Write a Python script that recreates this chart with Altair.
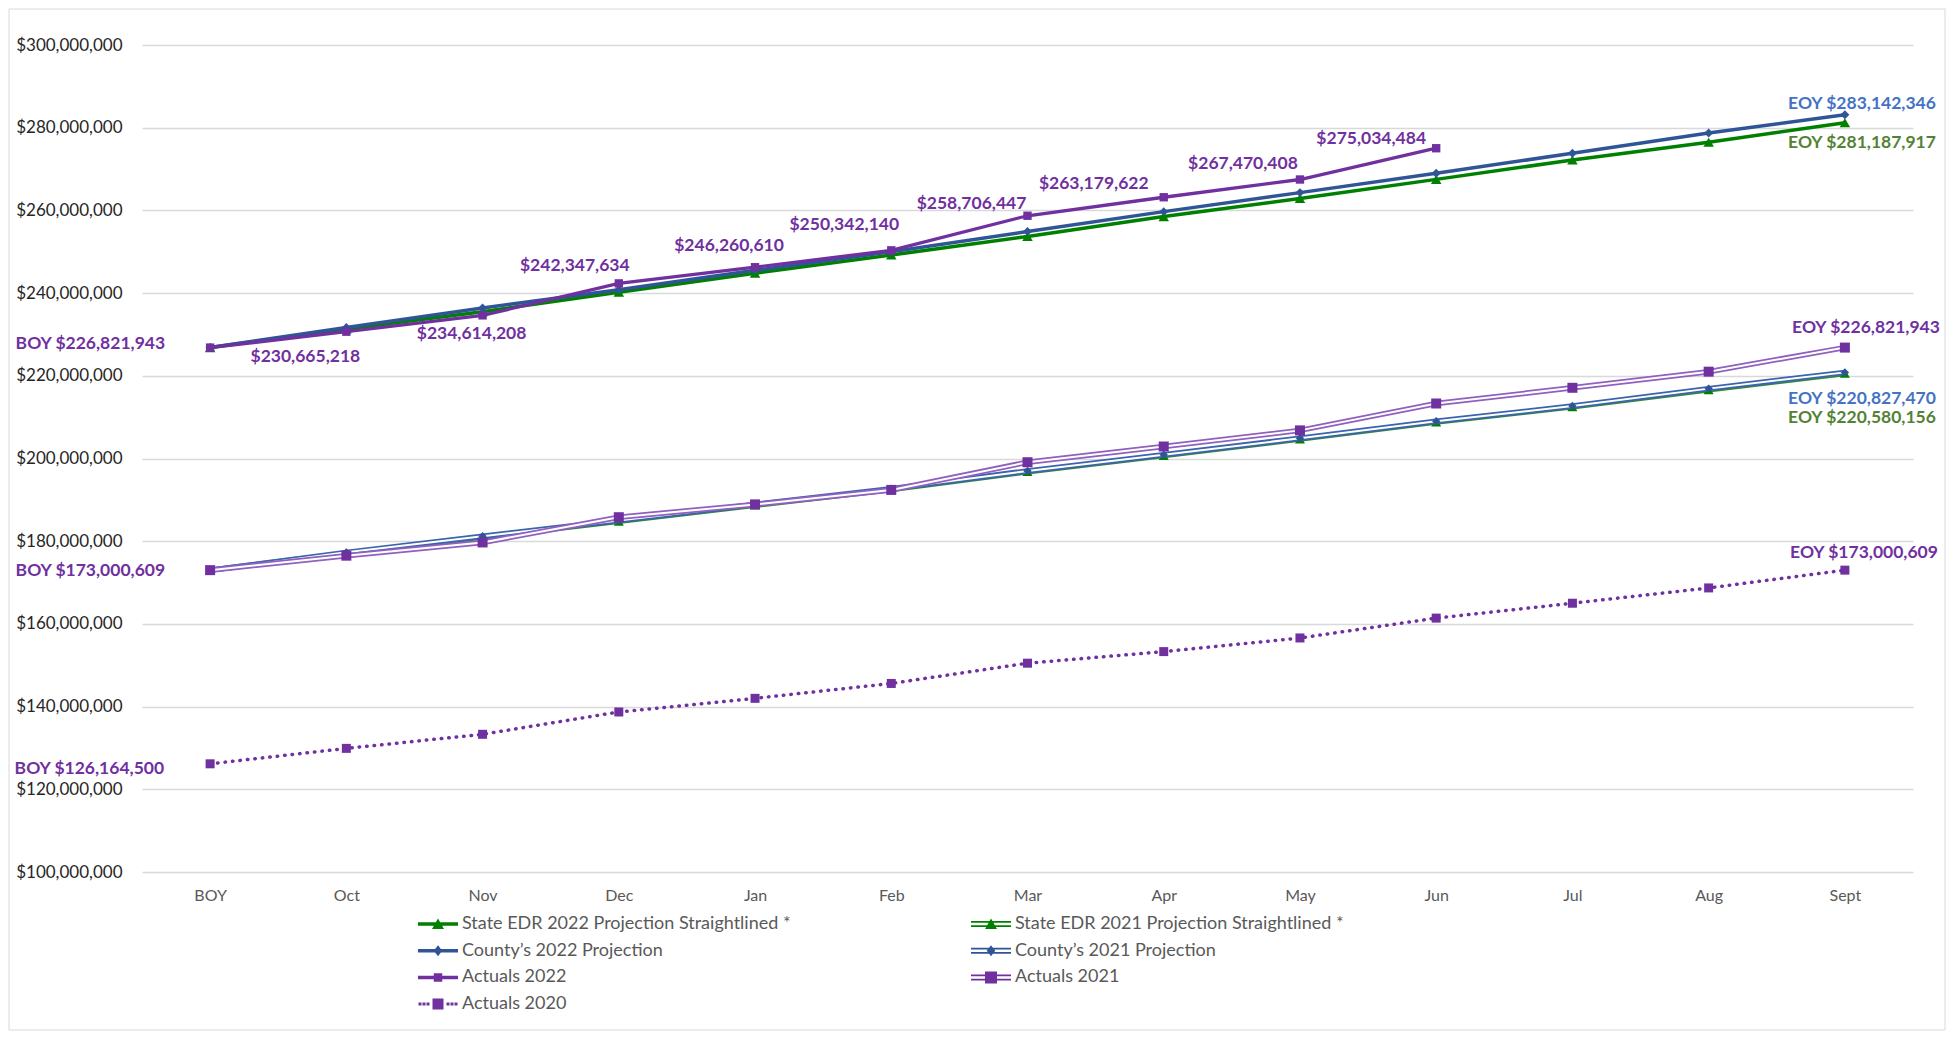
import altair as alt
import pandas as pd

# ---------------- data ----------------
months = ["BOY", "Oct", "Nov", "Dec", "Jan", "Feb", "Mar", "Apr", "May", "Jun", "Jul", "Aug", "Sept"]

series_names = [
    "State EDR 2022 Projection Straightlined *",
    "State EDR 2021 Projection Straightlined *",
    "County’s 2022 Projection",
    "County’s 2021 Projection",
    "Actuals 2022",
    "Actuals 2021",
    "Actuals 2020",
]

state_2022 = [226821943, 231300000, 235500000, 240200000, 244800000, 249200000, 253700000,
              258500000, 262900000, 267500000, 272200000, 276500000, 281187917]
county_2022 = [226821943, 231700000, 236400000, 240800000, 245500000, 250000000, 254900000,
               259700000, 264300000, 269000000, 273800000, 278700000, 283142346]
actuals_2022 = [226821943, 230665218, 234614208, 242347634, 246260610, 250342140, 258706447,
                263179622, 267470408, 275034484, None, None, None]
state_2021 = [173000609, 177100000, 181000000, 184800000, 188700000, 192500000, 196800000,
              200700000, 204700000, 208800000, 212500000, 216600000, 220580156]
county_2021 = [173000609, 177300000, 181200000, 185000000, 188900000, 192700000, 197000000,
               200900000, 204900000, 209000000, 212700000, 216900000, 220827470]
actuals_2021 = [173000609, 176500000, 179700000, 185800000, 188900000, 192400000, 199100000,
                202900000, 206800000, 213300000, 217100000, 221000000, 226821943]
actuals_2020 = [126164500, 129900000, 133300000, 138700000, 142000000, 145600000, 150500000,
                153300000, 156600000, 161400000, 165000000, 168700000, 173000609]

y_ticks = [100000000, 120000000, 140000000, 160000000, 180000000, 200000000,
           220000000, 240000000, 260000000, 280000000, 300000000]

values_by_series = {
    series_names[0]: state_2022,
    series_names[1]: state_2021,
    series_names[2]: county_2022,
    series_names[3]: county_2021,
    series_names[4]: actuals_2022,
    series_names[5]: actuals_2021,
    series_names[6]: actuals_2020,
}

rows = []
for s, vals in values_by_series.items():
    for m, v in zip(months, vals):
        rows.append({"series": s, "month": m, "value": v})
df = pd.DataFrame(rows)

# ---------------- styles ----------------
GREEN = "#008000"
BLUE = "#2F5597"
PURPLE = "#7030A0"
GREEN21 = "#2E8B2E"
BLUE21 = "#3B64AD"
PURPLE21 = "#9060C0"
LBL_BLUE = "#4472C4"
LBL_GREEN = "#548235"
FONT = "Lato"

x_axis = alt.Axis(title=None, domain=False, ticks=False, grid=False, labelAngle=0,
                  labelFont=FONT, labelFontSize=16, labelColor="#595959", labelPadding=15)
y_axis = alt.Axis(title=None, domain=False, ticks=False, grid=True, values=y_ticks,
                  format="$,.0f", labelFont=FONT, labelFontSize=17, labelColor="#262626",
                  labelPadding=20, gridColor="#d9d9d9", gridWidth=1.3)


def xenc():
    return alt.X("month:N", scale=alt.Scale(type="point", domain=months, padding=0.5), axis=x_axis)


def yenc():
    return alt.Y("value:Q", scale=alt.Scale(domain=[100000000, 300000000], nice=False, zero=False),
                 axis=y_axis)


def sub(s):
    return df[df["series"] == s].dropna()


def line(s, color, width, **kw):
    return alt.Chart(sub(s)).mark_line(color=color, strokeWidth=width, **kw).encode(x=xenc(), y=yenc())


def points(s, shape, size, color):
    return alt.Chart(sub(s)).mark_point(shape=shape, size=size, color=color, filled=True,
                                        opacity=1).encode(x=xenc(), y=yenc())


def label(s, month, prefix, color, align, dx, dy):
    d = df[(df["series"] == s) & (df["month"] == month)].copy()
    d["label"] = [prefix + "${:,.0f}".format(v) for v in d["value"]]
    return alt.Chart(d).mark_text(font=FONT, fontSize=17.5, fontWeight="bold", color=color,
                                  align=align, baseline="middle", dx=dx, dy=dy).encode(
        x=xenc(), y=yenc(), text="label:N")


# legend symbol paths (unit = 5px)
def rect(x0, y0, x1, y1):
    return f"M{x0},{y0}H{x1}V{y1}H{x0}Z"


single = rect(-4, -0.35, 4, 0.35)
double = rect(-4, -0.6, 4, -0.25) + rect(-4, 0.25, 4, 0.6)
dots = "".join(rect(c - 0.3, -0.3, c + 0.3, 0.3) for c in [-3.6, -2.8, -2.0, 2.0, 2.8, 3.6])
tri = "M0,-1.1L1.2,1L-1.2,1Z"
dia = "M0,-1.1L0.85,0L0,1.1L-0.85,0Z"
sq = rect(-0.85, -0.85, 0.85, 0.85)
sq_big = rect(-1.2, -1.2, 1.2, 1.2)
sq_mid = rect(-1.1, -1.1, 1.1, 1.1)

legend_shapes = [single + tri, double + tri, single + dia, double + dia,
                 single + sq, double + sq_big, dots + sq_mid]
legend_colors = [GREEN, GREEN, BLUE, BLUE, PURPLE, PURPLE, PURPLE]

legend_df = pd.DataFrame({"series": series_names, "month": ["BOY"] * 7, "value": [None] * 7})

legend_spec = alt.Legend(orient="none", legendX=272, legendY=870, columns=2, direction="horizontal",
                         title=None,
                         symbolSize=100, symbolStrokeWidth=0, symbolOffset=15, labelOffset=15,
                         labelFont=FONT, labelFontSize=18, labelColor="#595959", labelLimit=600,
                         rowPadding=8.7, columnPadding=176, padding=0)

legend_layer = alt.Chart(legend_df).mark_point(filled=True, opacity=1, size=100).encode(
    x=xenc(), y=yenc(),
    color=alt.Color("series:N", scale=alt.Scale(domain=series_names, range=legend_colors),
                    legend=legend_spec),
    shape=alt.Shape("series:N", scale=alt.Scale(domain=series_names, range=legend_shapes),
                    legend=legend_spec),
)

frame = alt.Chart(pd.DataFrame({"k": [0]})).mark_rect(
    fill="white", fillOpacity=0, stroke="#d9d9d9", strokeWidth=1).encode(
    x=alt.value(-133), x2=alt.value(1803), y=alt.value(-36), y2=alt.value(985))

S22, S21, C22, C21, A22, A21, A20 = series_names

layers = [
    frame,
    # Actuals 2020 dotted
    line(A20, PURPLE, 3.5, strokeDash=[0.5, 7], strokeCap="round"),
    points(A20, "square", 81, PURPLE),
    # 2021 projections (double lines)
    line(S21, GREEN21, 5.5),
    line(S21, "white", 2),
    points(S21, "triangle-up", 100, GREEN),
    line(C21, BLUE21, 5.5),
    line(C21, "white", 2),
    points(C21, "diamond", 70, BLUE),
    # Actuals 2021 double
    line(A21, PURPLE21, 5.5),
    line(A21, "white", 2),
    points(A21, "square", 100, PURPLE),
    # 2022
    line(S22, GREEN, 3.5),
    points(S22, "triangle-up", 110, GREEN),
    line(C22, BLUE, 3.5),
    points(C22, "diamond", 80, BLUE),
    line(A22, PURPLE, 3.3),
    points(A22, "square", 70, PURPLE),
    # data labels, Actuals 2022
    label(A22, "BOY", "BOY ", PURPLE, "right", -45, -4),
    label(A22, "Oct", "", PURPLE, "center", -41, 25),
    label(A22, "Nov", "", PURPLE, "center", -11, 19),
    label(A22, "Dec", "", PURPLE, "center", -44, -17),
    label(A22, "Jan", "", PURPLE, "center", -26, -21),
    label(A22, "Feb", "", PURPLE, "center", -47, -25),
    label(A22, "Mar", "", PURPLE, "center", -56, -12),
    label(A22, "Apr", "", PURPLE, "center", -70, -13),
    label(A22, "May", "", PURPLE, "center", -57, -16),
    label(A22, "Jun", "", PURPLE, "center", -65, -9),
    # EOY / BOY labels
    label(C22, "Sept", "EOY ", LBL_BLUE, "right", 91, -11),
    label(S22, "Sept", "EOY ", LBL_GREEN, "right", 91, 20),
    label(A21, "Sept", "EOY ", PURPLE, "right", 95, -20),
    label(C21, "Sept", "EOY ", LBL_BLUE, "right", 91, 27),
    label(S21, "Sept", "EOY ", LBL_GREEN, "right", 91, 45),
    label(A20, "Sept", "EOY ", PURPLE, "right", 93, -17),
    label(A21, "BOY", "BOY ", PURPLE, "right", -45, 1),
    label(A20, "BOY", "BOY ", PURPLE, "right", -46, 5),
    legend_layer,
]

chart = alt.layer(*layers).properties(
    width=1771, height=827,
    autosize=alt.AutoSizeParams(type="none"),
    padding={"left": 134, "top": 37, "right": 33, "bottom": 160},
    background="white",
).configure_view(stroke=None)

chart.save("out.html", embed_options={"renderer": "svg", "actions": False})
